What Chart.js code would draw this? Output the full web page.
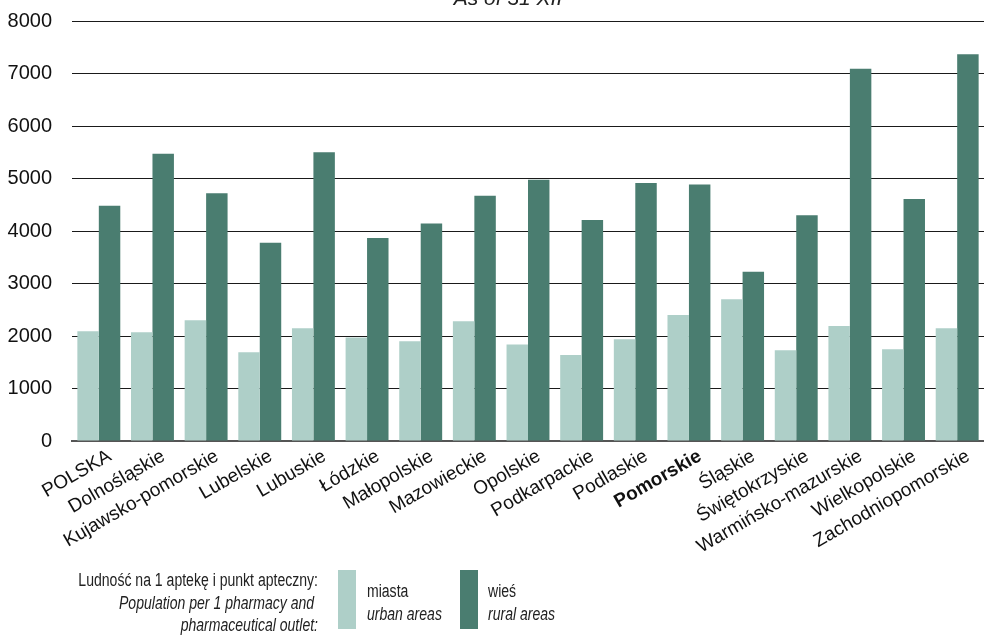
<!DOCTYPE html>
<html>
<head>
<meta charset="utf-8">
<script src="https://cdn.jsdelivr.net/npm/chart.js@4"></script>
<style>
html,body{margin:0;padding:0;background:#fff;}
#wrap{position:relative;width:984px;height:636px;}
</style>
</head>
<body>
<div id="wrap"><canvas id="c" width="984" height="636"></canvas></div>
<script>
const categories = ["POLSKA","Dolnośląskie","Kujawsko-pomorskie","Lubelskie","Lubuskie","Łódzkie","Małopolskie","Mazowieckie","Opolskie","Podkarpackie","Podlaskie","Pomorskie","Śląskie","Świętokrzyskie","Warmińsko-mazurskie","Wielkopolskie","Zachodniopomorskie"];
const urban = [2090,2070,2300,1690,2150,1970,1900,2280,1840,1640,1940,2400,2700,1730,2190,1750,2150];
const rural = [4480,5470,4720,3775,5500,3865,4145,4670,4975,4210,4915,4885,3225,4300,7090,4610,7365];
const yTicks = [0,1000,2000,3000,4000,5000,6000,7000,8000];
const boldCategory = "Pomorskie";
const titleText = "As of 31 XII";
const legendHeadLines = ["Ludność na 1 aptekę i punkt apteczny:", "Population per 1 pharmacy and ", "pharmaceutical outlet:"];
const seriesNames = [["miasta","urban areas"],["wieś","rural areas"]];

const LIGHT = "#aecfc8", DARK = "#4a7d70";
const FONT = "'Liberation Sans', Arial, sans-serif";
const SQ = 0.78; // horizontal squeeze for the condensed legend face

function narrowText(ctx, text, x, y, font, align, sq) {
  ctx.save();
  ctx.font = font;
  ctx.textAlign = align;
  ctx.translate(x, y);
  ctx.scale(sq, 1);
  ctx.fillText(text, 0, 0);
  ctx.restore();
}

const extras = {
  id: "extras",
  afterDraw(chart) {
    const ctx = chart.ctx;
    ctx.save();
    ctx.fillStyle = "#222";
    ctx.textBaseline = "alphabetic";
    narrowText(ctx, titleText, 508, 5, "italic 21px " + FONT, "center", 1);
    ctx.textBaseline = "middle";
    narrowText(ctx, legendHeadLines[0], 318, 581, "18px " + FONT, "right", SQ);
    narrowText(ctx, legendHeadLines[1], 318, 604, "italic 18px " + FONT, "right", SQ);
    narrowText(ctx, legendHeadLines[2], 318, 626, "italic 18px " + FONT, "right", SQ);
    const sw = [[338, 367], [460, 488]];
    chart.data.datasets.forEach((ds, i) => {
      ctx.fillStyle = ds.backgroundColor;
      ctx.fillRect(sw[i][0], 570, 18, 59);
      ctx.fillStyle = "#222";
      narrowText(ctx, seriesNames[i][0], sw[i][1], 592, "18px " + FONT, "left", SQ);
      narrowText(ctx, seriesNames[i][1], sw[i][1], 615, "italic 18px " + FONT, "left", SQ);
    });
    ctx.restore();
  }
};

new Chart(document.getElementById("c"), {
  type: "bar",
  data: {
    labels: categories,
    datasets: [
      { label: "miasta", data: urban, backgroundColor: LIGHT, borderWidth: 0 },
      { label: "wieś", data: rural, backgroundColor: DARK, borderWidth: 0 }
    ]
  },
  options: {
    responsive: false,
    animation: false,
    devicePixelRatio: 1,
    layout: { padding: { top: 21, right: 0, bottom: 0, left: 0 } },
    plugins: { legend: { display: false }, tooltip: { enabled: false }, title: { display: false } },
    datasets: { bar: { categoryPercentage: 0.8, barPercentage: 1.0 } },
    scales: {
      x: {
        grid: { display: false, drawTicks: false },
        border: { display: true, color: "#555", width: 2 },
        ticks: {
          color: "#111",
          minRotation: 30, maxRotation: 30,
          autoSkip: false,
          padding: 4,
          labelOffset: 11,
          font: (c) => ({ family: FONT, size: 19, weight: (c.tick && c.tick.label === boldCategory) ? "bold" : "normal" })
        },
        afterFit: (s) => { s.height = 195; }
      },
      y: {
        min: 0, max: 8000,
        afterBuildTicks: (s) => { s.ticks = yTicks.map(v => ({ value: v })); },
        grid: { color: "#1a1a1a", lineWidth: 1, drawTicks: false },
        border: { display: false },
        ticks: { color: "#111", padding: 20, font: { family: FONT, size: 20 }, callback: (v) => String(v) },
        afterFit: (s) => { s.width = 72; s.paddingTop = 0; s.paddingBottom = 0; }
      }
    }
  },
  plugins: [extras]
});
</script>
</body>
</html>
